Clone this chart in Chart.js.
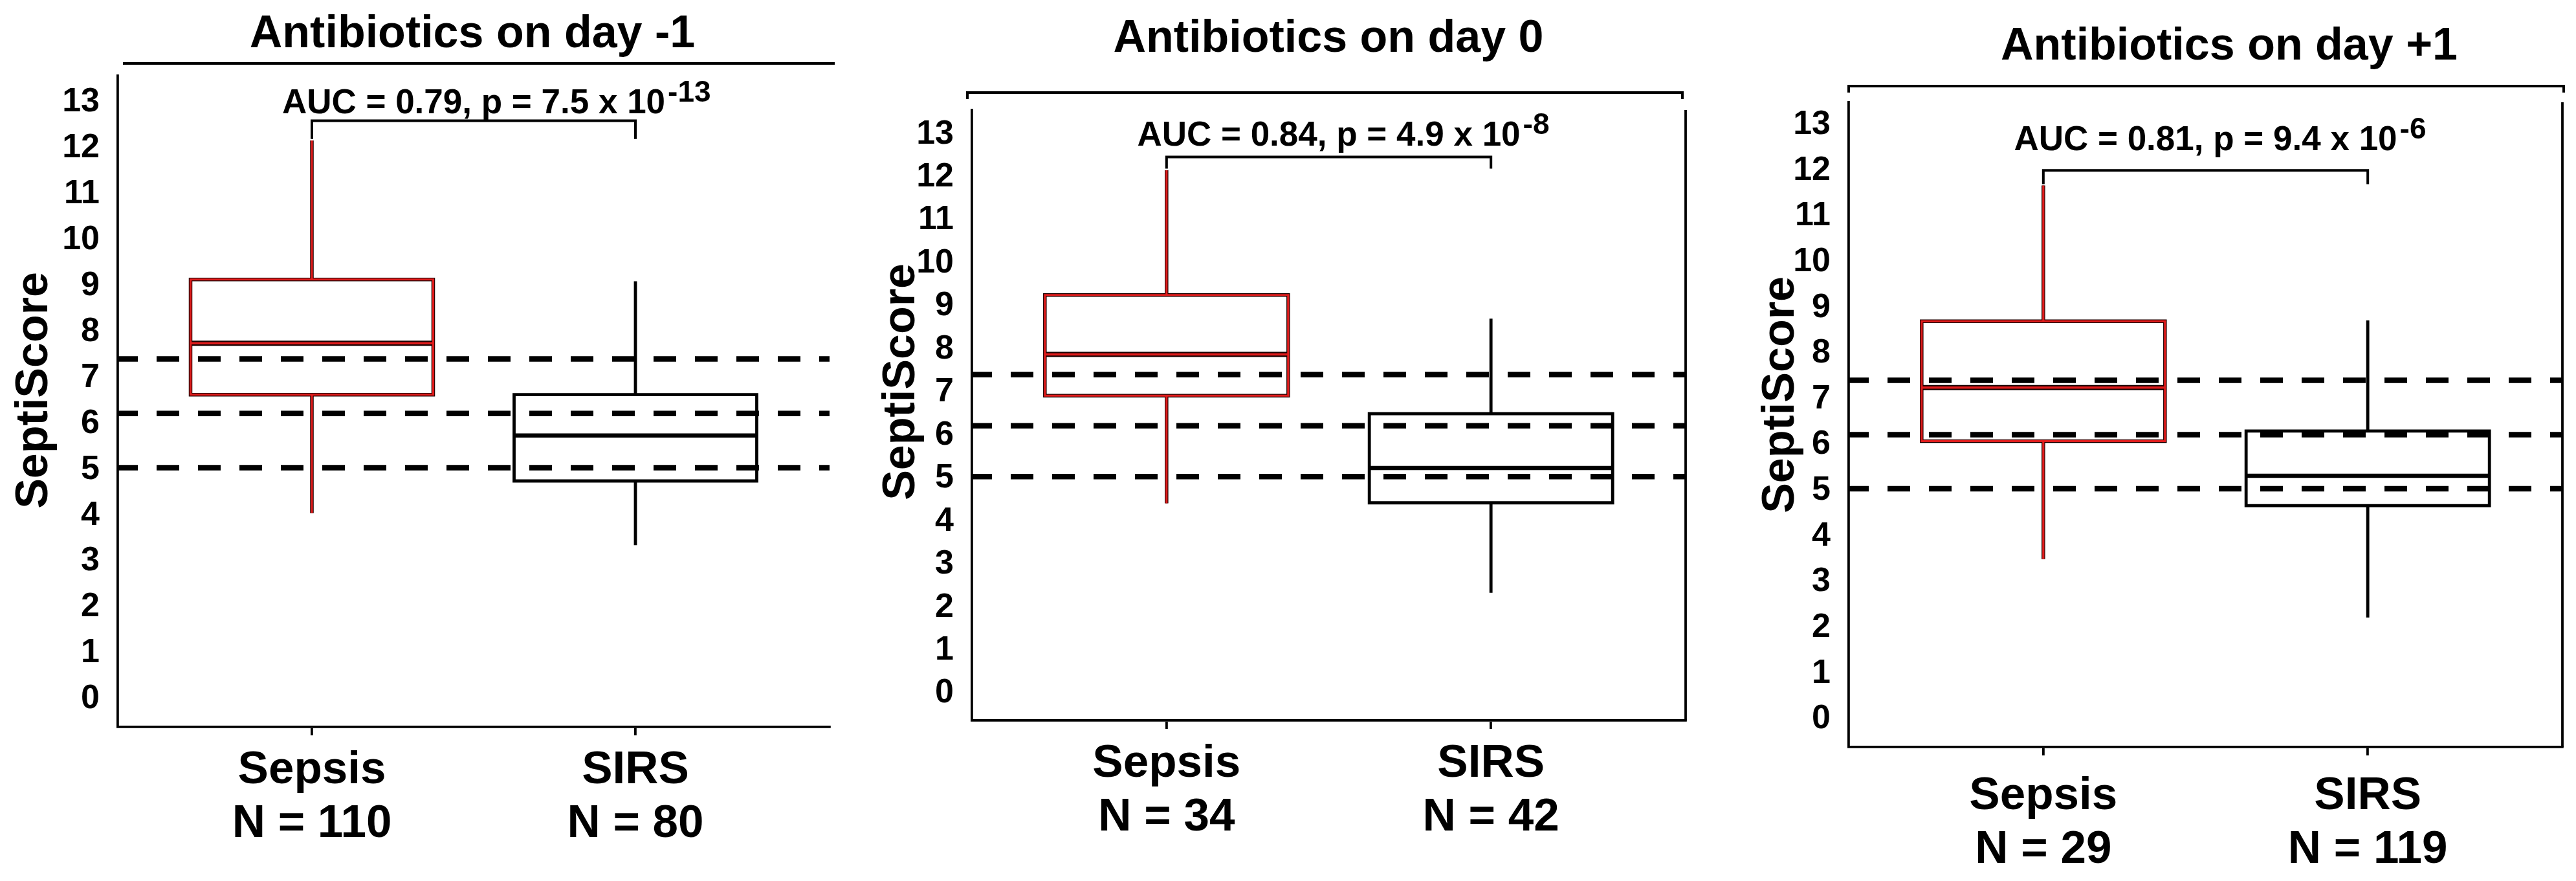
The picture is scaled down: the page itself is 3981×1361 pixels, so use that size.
<!DOCTYPE html>
<html>
<head>
<meta charset="utf-8">
<script src="https://cdn.jsdelivr.net/npm/chart.js@4.4.1/dist/chart.umd.min.js"></script>
<style>
html, body { margin: 0; padding: 0; background: #ffffff; }
#wrap { position: relative; width: 3981px; height: 1361px; overflow: hidden; background: #ffffff; }
#wrap canvas { position: absolute; top: 0; }
</style>
</head>
<body>
<div id="wrap">
  <canvas id="c0"></canvas>
  <canvas id="c1"></canvas>
  <canvas id="c2"></canvas>
</div>
<script>
// ---------------- DATA ----------------
const panelTitles = ['Antibiotics on day -1', 'Antibiotics on day 0', 'Antibiotics on day +1'];
const categories = ['Sepsis', 'SIRS'];
const categoryPositions = [1, 2];
const sampleSizes = [[110, 80], [34, 42], [29, 119]];
// [lower whisker, Q1, median, Q3, upper whisker]
const sepsisStats = [
  [4.05, 6.63, 7.75, 9.14, 12.17],
  [4.42, 6.92, 7.88, 9.26, 12.16],
  [3.50, 6.08, 7.25, 8.70, 11.67]
];
const sirsStats = [
  [3.35, 4.75, 5.74, 6.63, 9.10],
  [2.34, 4.43, 5.24, 6.50, 8.71],
  [2.22, 4.67, 5.32, 6.30, 8.72]
];
const thresholdLines = [7.41, 6.22, 5.04];
const aucValues = ['0.79', '0.84', '0.81'];
const pMantissas = ['7.5', '4.9', '9.4'];
const pExponents = ['-13', '-8', '-6'];
const bracketTops = [12.6, 12.47, 12.0];
const bracketLegEnds = [12.2, 12.2, 11.7];
const yTickValues = [0, 1, 2, 3, 4, 5, 6, 7, 8, 9, 10, 11, 12, 13];
const yAxisTitle = 'SeptiScore';

// ---------------- LAYOUT / STYLE ----------------
const PAGE_H = 1361;
const FONT = '"Liberation Sans", Arial, Helvetica, sans-serif';
const X_RANGE = [0.4, 2.6];
const BOX_HALF = 0.375;
const RED = '#e01c1c';
const panelLayout = [
  { canvasLeft: 0, canvasWidth: 1330, left: 182, right: 1282, top: 117, bottom: 1123, yMin: -0.61, yMax: 13.58,
    titleX: 730, titleY: 73, lineY: 98, lineX0: 190, lineX1: 1290, hooks: false, rightBorder: false,
    yTitleX: 73, yTitleY: 603, xTickPad: 13, aucOffset: 11 },
  { canvasLeft: 1330, canvasWidth: 1330, left: 1502, right: 2605, top: 170, bottom: 1113, yMin: -0.63, yMax: 13.56,
    titleX: 2053, titleY: 80, lineY: 143, lineX0: 1495, lineX1: 2600, hooks: true, rightBorder: true,
    yTitleX: 1413, yTitleY: 590, xTickPad: 13, aucOffset: 17 },
  { canvasLeft: 2660, canvasWidth: 1321, left: 2857, right: 3960, top: 158, bottom: 1154, yMin: -0.61, yMax: 13.49,
    titleX: 3445, titleY: 92, lineY: 133, lineX0: 2857, lineX1: 3962, hooks: true, rightBorder: true,
    yTitleX: 2772, yTitleY: 610, xTickPad: 22, aucOffset: 31 }
];

function seg(points, color, width, order, dash, dashOffset) {
  return {
    type: 'scatter', data: points, showLine: true, fill: false,
    borderColor: color, borderWidth: width, borderDash: dash || [], borderDashOffset: dashOffset || 0,
    borderCapStyle: 'butt', borderJoinStyle: 'miter',
    pointRadius: 0, pointHoverRadius: 0, tension: 0, order: order
  };
}

function boxDatasets(stats, x, red) {
  const [lo, q1, med, q3, hi] = stats;
  const rect = [
    { x: x, y: q1 }, { x: x + BOX_HALF, y: q1 }, { x: x + BOX_HALF, y: q3 },
    { x: x - BOX_HALF, y: q3 }, { x: x - BOX_HALF, y: q1 }, { x: x, y: q1 }
  ];
  const lowW = [{ x: x, y: q1 }, { x: x, y: lo }];
  const highW = [{ x: x, y: q3 }, { x: x, y: hi }];
  const medL = [{ x: x - BOX_HALF, y: med }, { x: x + BOX_HALF, y: med }];
  const out = [];
  if (red) {
    [rect, lowW, highW].forEach(p => out.push(seg(p, '#1a0000', 5.5, 4)));
    out.push(seg(medL, '#1a0000', 8, 4));
    [rect, lowW, highW].forEach(p => out.push(seg(p, RED, 3.2, 2)));
    out.push(seg(medL, RED, 3.5, 2));
  } else {
    [rect, lowW, highW].forEach(p => out.push(seg(p, '#000000', 4.8, 3)));
    out.push(seg(medL, '#000000', 6.5, 3));
  }
  return out;
}

const decorPlugin = {
  id: 'decor',
  afterDraw(chart, args, o) {
    const ctx = chart.ctx;
    const xs = chart.scales.x, ys = chart.scales.y;
    const L = o.canvasLeft;
    const ca = chart.chartArea;
    ctx.save();
    ctx.fillStyle = '#000';
    ctx.strokeStyle = '#000';
    // panel title
    ctx.font = 'bold 70px ' + FONT;
    ctx.textAlign = 'center';
    ctx.textBaseline = 'alphabetic';
    ctx.fillText(o.title, o.titleX - L, o.titleY);
    // line under title
    ctx.lineWidth = 4;
    ctx.lineCap = 'butt';
    ctx.beginPath();
    if (o.hooks) {
      ctx.moveTo(o.lineX0 - L, o.lineY + 10);
      ctx.lineTo(o.lineX0 - L, o.lineY);
      ctx.lineTo(o.lineX1 - L, o.lineY);
      ctx.lineTo(o.lineX1 - L, o.lineY + 10);
    } else {
      ctx.moveTo(o.lineX0 - L, o.lineY);
      ctx.lineTo(o.lineX1 - L, o.lineY);
    }
    ctx.stroke();
    // right border
    if (o.rightBorder) {
      ctx.lineWidth = 3.8;
      ctx.beginPath();
      ctx.moveTo(ca.right, ca.top);
      ctx.lineTo(ca.right, ca.bottom);
      ctx.stroke();
    }
    // y-axis title
    ctx.save();
    ctx.translate(o.yTitleX - L, o.yTitleY);
    ctx.rotate(-Math.PI / 2);
    ctx.font = 'bold 70px ' + FONT;
    ctx.textAlign = 'center';
    ctx.textBaseline = 'alphabetic';
    ctx.fillText(yAxisTitle, 0, 0);
    ctx.restore();
    // AUC annotation
    const base = 'AUC = ' + o.auc + ', p = ' + o.mant + ' x 10';
    ctx.font = 'bold 53px ' + FONT;
    const bw = ctx.measureText(base).width;
    const cx = xs.getPixelForValue((categoryPositions[0] + categoryPositions[1]) / 2);
    const by = ys.getPixelForValue(o.bracketTop) - o.aucOffset;
    ctx.textAlign = 'center';
    ctx.fillText(base, cx, by);
    ctx.font = 'bold 46px ' + FONT;
    ctx.textAlign = 'left';
    ctx.fillText(o.exp, cx + bw / 2 + 4, by - 18);
    ctx.restore();
  }
};

panelLayout.forEach((lay, p) => {
  const canvas = document.getElementById('c' + p);
  canvas.width = lay.canvasWidth;
  canvas.height = PAGE_H;
  canvas.style.left = lay.canvasLeft + 'px';
  canvas.style.width = lay.canvasWidth + 'px';
  canvas.style.height = PAGE_H + 'px';

  const datasets = [];
  thresholdLines.forEach(t => {
    datasets.push(seg([{ x: X_RANGE[0], y: t }, { x: X_RANGE[1], y: t }], '#000000', 8.5, 0, [35, 29], 4));
  });
  const x1 = categoryPositions[0], x2 = categoryPositions[1];
  datasets.push(seg([
    { x: x1, y: bracketLegEnds[p] }, { x: x1, y: bracketTops[p] },
    { x: x2, y: bracketTops[p] }, { x: x2, y: bracketLegEnds[p] }
  ], '#000000', 4, 1));
  boxDatasets(sepsisStats[p], x1, true).forEach(d => datasets.push(d));
  boxDatasets(sirsStats[p], x2, false).forEach(d => datasets.push(d));

  new Chart(canvas, {
    type: 'scatter',
    data: { datasets },
    options: {
      responsive: false,
      devicePixelRatio: 1,
      animation: false,
      events: [],
      layout: { padding: { left: 0, top: lay.top, right: lay.canvasLeft + lay.canvasWidth - lay.right, bottom: 0 } },
      plugins: {
        legend: { display: false },
        tooltip: { enabled: false },
        title: { display: false },
        decor: {
          canvasLeft: lay.canvasLeft, title: panelTitles[p], titleX: lay.titleX, titleY: lay.titleY,
          lineY: lay.lineY, lineX0: lay.lineX0, lineX1: lay.lineX1, hooks: lay.hooks, rightBorder: lay.rightBorder,
          yTitleX: lay.yTitleX, yTitleY: lay.yTitleY, auc: aucValues[p], mant: pMantissas[p], exp: pExponents[p],
          bracketTop: bracketTops[p], aucOffset: lay.aucOffset
        }
      },
      scales: {
        x: {
          type: 'linear', position: 'bottom', min: X_RANGE[0], max: X_RANGE[1],
          afterFit: (s) => { s.height = PAGE_H - lay.bottom; },
          afterBuildTicks: (s) => { s.ticks = categoryPositions.map(v => ({ value: v })); },
          grid: { display: true, drawOnChartArea: false, drawTicks: true, tickLength: 13, lineWidth: 3.8, color: '#000' },
          border: { display: true, width: 3.8, color: '#000' },
          ticks: {
            autoSkip: false, maxRotation: 0, minRotation: 0, padding: lay.xTickPad, color: '#000',
            font: { family: FONT, size: 71, weight: 'bold', lineHeight: 1.17 },
            callback: (v, i) => [categories[i], 'N = ' + sampleSizes[p][i]]
          }
        },
        y: {
          type: 'linear', position: 'left', min: lay.yMin, max: lay.yMax,
          afterFit: (s) => { s.width = lay.left - lay.canvasLeft; },
          afterBuildTicks: (s) => { s.ticks = yTickValues.map(v => ({ value: v })); },
          grid: { display: false },
          border: { display: true, width: 3.8, color: '#000' },
          ticks: {
            autoSkip: false, padding: 20, color: '#000',
            font: { family: FONT, size: 52, weight: 'bold' },
            callback: (v) => String(v)
          }
        }
      }
    },
    plugins: [decorPlugin]
  });
});
</script>
</body>
</html>
